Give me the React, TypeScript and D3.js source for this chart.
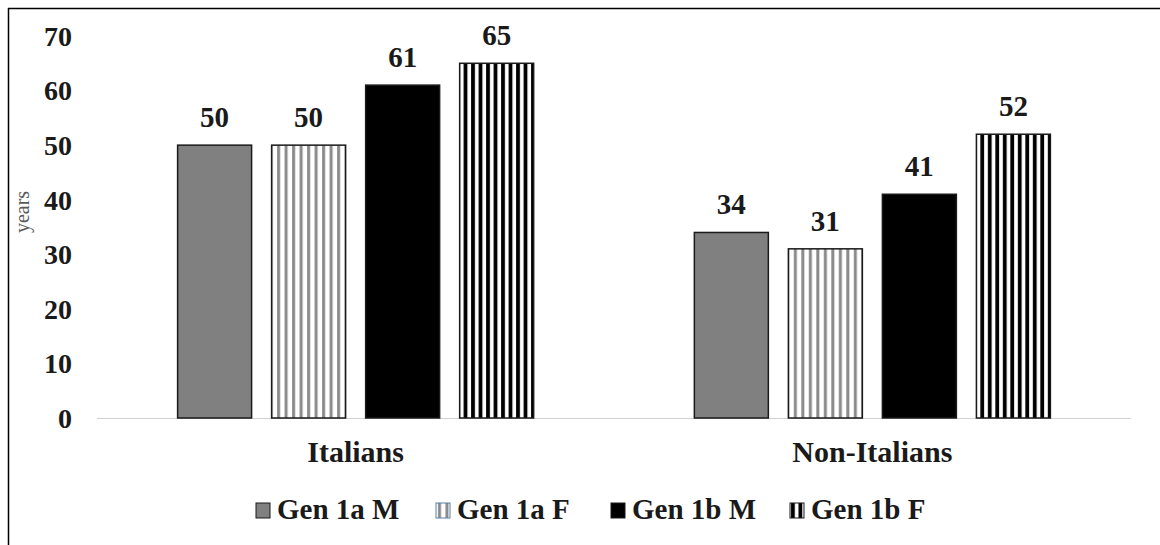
import React, { useEffect, useRef } from "react";
import * as d3 from "d3";

const categories = ["Italians", "Non-Italians"];
const seriesNames = ["Gen 1a M", "Gen 1a F", "Gen 1b M", "Gen 1b F"];
const italiansValues = [50, 50, 61, 65];
const nonItaliansValues = [34, 31, 41, 52];
const yTicks = [0, 10, 20, 30, 40, 50, 60, 70];

export default function App() {
  const refElement = useRef<HTMLDivElement>(null);

  useEffect(() => {
    const el = refElement.current;
    if (!el) return;

    const width = 1160,
      height = 545;
    const margin = { top: 36, right: 29, bottom: 127, left: 97 };
    const font = "'Liberation Serif', 'Times New Roman', serif";

    const dataset = categories.map((c, i) => ({
      category: c,
      values: (i === 0 ? italiansValues : nonItaliansValues).map((v, j) => ({
        series: seriesNames[j],
        value: v
      }))
    }));

    const x0 = d3
      .scaleBand()
      .domain(categories)
      .range([margin.left, width - margin.right])
      .paddingInner(0.311)
      .paddingOuter(0.156);

    const x1 = d3
      .scaleBand()
      .domain(seriesNames)
      .range([0, x0.bandwidth()])
      .paddingInner(0.213);

    const y = d3
      .scaleLinear()
      .domain([0, 70])
      .range([height - margin.bottom, margin.top]);

    const svg = d3
      .select(el)
      .append("svg")
      .attr("width", width)
      .attr("height", height)
      .style("display", "block")
      .style("font-family", font);

    svg.append("rect").attr("width", width).attr("height", height).attr("fill", "#fff");

    // patterns
    const defs = svg.append("defs");
    const grayStripes = defs
      .append("pattern")
      .attr("id", "grayStripes")
      .attr("patternUnits", "userSpaceOnUse")
      .attr("width", 7.5)
      .attr("height", 10);
    grayStripes.append("rect").attr("width", 7.5).attr("height", 10).attr("fill", "#fff");
    grayStripes.append("rect").attr("x", 2).attr("width", 3).attr("height", 10).attr("fill", "#8a8a8a");

    const blackStripes = defs
      .append("pattern")
      .attr("id", "blackStripes")
      .attr("patternUnits", "userSpaceOnUse")
      .attr("width", 7.5)
      .attr("height", 10);
    blackStripes.append("rect").attr("width", 7.5).attr("height", 10).attr("fill", "#fff");
    blackStripes.append("rect").attr("x", 1).attr("width", 3.8).attr("height", 10).attr("fill", "#000");

    const fills: Record<string, string> = {
      "Gen 1a M": "#808080",
      "Gen 1a F": "url(#grayStripes)",
      "Gen 1b M": "#000",
      "Gen 1b F": "url(#blackStripes)"
    };

    // frame (only top and left edges visible)
    svg.append("line").attr("x1", 8).attr("x2", width).attr("y1", 8.5).attr("y2", 8.5).attr("stroke", "#000").attr("stroke-width", 1.5);
    svg.append("line").attr("x1", 8.5).attr("x2", 8.5).attr("y1", 8).attr("y2", height).attr("stroke", "#000").attr("stroke-width", 1.5);

    // y tick labels
    svg
      .append("g")
      .selectAll("text")
      .data(yTicks)
      .join("text")
      .attr("x", 72)
      .attr("y", d => y(d))
      .attr("dy", "0.35em")
      .attr("text-anchor", "end")
      .attr("font-size", 28)
      .attr("font-weight", "bold")
      .attr("fill", "#1a1a1a")
      .text(d => d);

    // y label
    svg
      .append("text")
      .attr("transform", "translate(29,212) rotate(-90)")
      .attr("text-anchor", "middle")
      .attr("font-size", 20)
      .attr("fill", "#595959")
      .text("years");

    // baseline
    svg
      .append("line")
      .attr("x1", margin.left)
      .attr("x2", width - margin.right)
      .attr("y1", y(0) + 0.5)
      .attr("y2", y(0) + 0.5)
      .attr("stroke", "#d0d0d0")
      .attr("stroke-width", 1);

    // bars
    const groups = svg
      .append("g")
      .selectAll("g")
      .data(dataset)
      .join("g")
      .attr("transform", d => "translate(" + x0(d.category) + ",0)");

    groups
      .selectAll("rect")
      .data(d => d.values)
      .join("rect")
      .attr("x", d => x1(d.series)!)
      .attr("y", d => y(d.value))
      .attr("width", x1.bandwidth())
      .attr("height", d => y(0) - y(d.value))
      .attr("fill", d => fills[d.series])
      .attr("stroke", "#1a1a1a")
      .attr("stroke-width", 1.5);

    groups
      .selectAll("text")
      .data(d => d.values)
      .join("text")
      .attr("x", d => x1(d.series)! + x1.bandwidth() / 2)
      .attr("y", d => y(d.value) - 18)
      .attr("text-anchor", "middle")
      .attr("font-size", 29)
      .attr("font-weight", "bold")
      .attr("fill", "#1a1a1a")
      .text(d => d.value);

    // category labels
    svg
      .append("g")
      .selectAll("text")
      .data(categories)
      .join("text")
      .attr("x", d => x0(d)! + x0.bandwidth() / 2)
      .attr("y", 462)
      .attr("text-anchor", "middle")
      .attr("font-size", 30)
      .attr("font-weight", "bold")
      .attr("fill", "#1a1a1a")
      .text(d => d);

    // legend
    const legendX = [256, 436, 611, 790];
    const legend = svg
      .append("g")
      .selectAll("g")
      .data(seriesNames)
      .join("g")
      .attr("transform", (d, i) => "translate(" + legendX[i] + ",503)");

    legend
      .append("rect")
      .attr("width", 14)
      .attr("height", 15)
      .attr("fill", d => fills[d])
      .attr("stroke", (d, i) => (i === 1 ? "#5b7fa6" : "#1a1a1a"))
      .attr("stroke-width", 1);

    legend
      .append("text")
      .attr("x", 21)
      .attr("y", 16)
      .attr("font-size", 29)
      .attr("font-weight", "bold")
      .attr("fill", "#1a1a1a")
      .text(d => d);

    return () => {
      if (el)
        d3.select(el)
          .select("svg")
          .remove();
    };
  });

  return (
    <div style={{ position: "absolute", left: 0, top: 0 }} ref={refElement} />
  );
}
